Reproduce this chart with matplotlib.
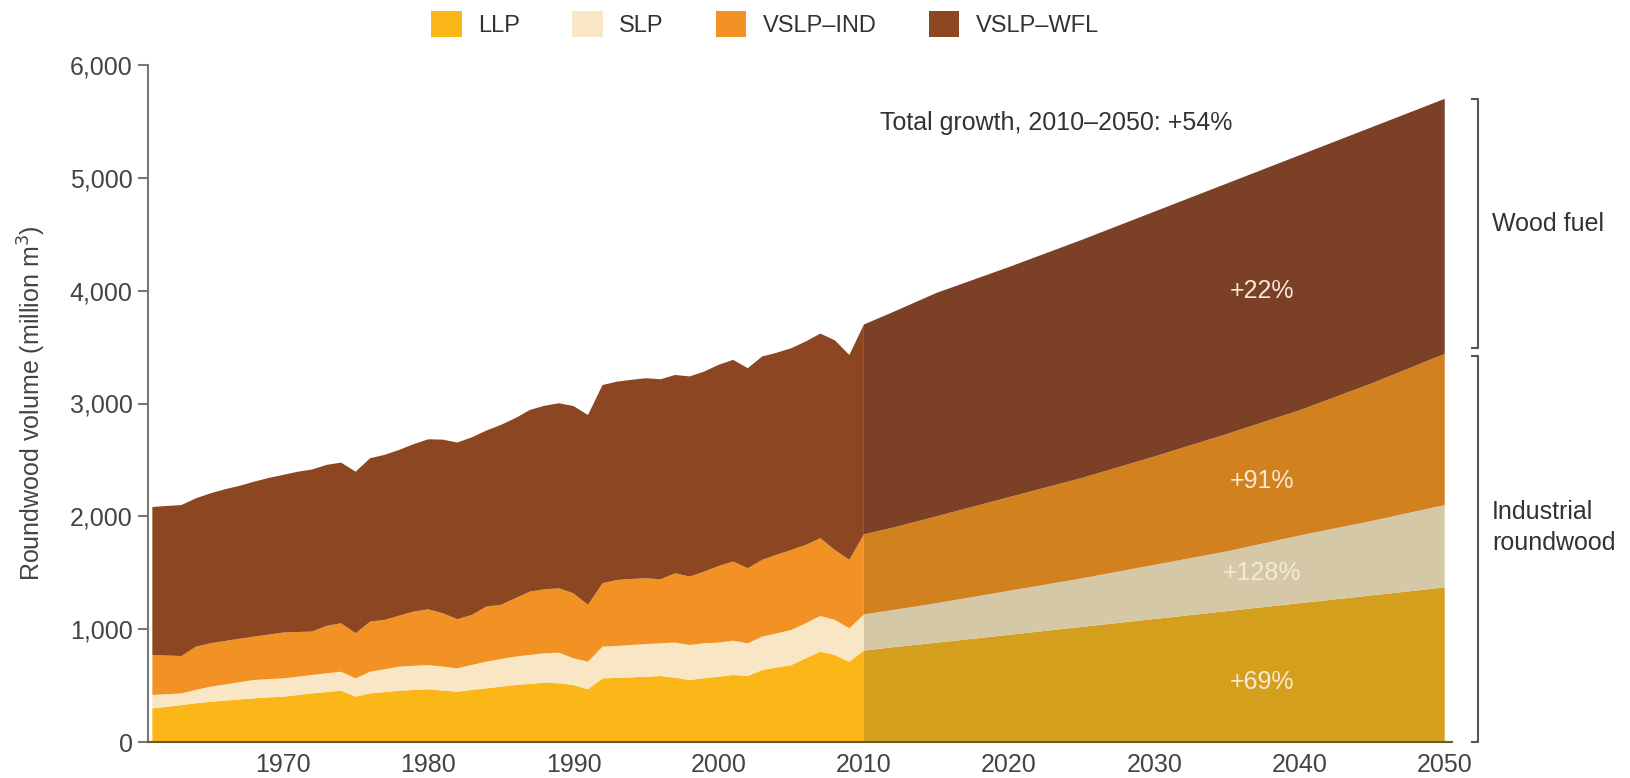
import matplotlib
matplotlib.use('Agg')
import matplotlib.pyplot as plt
from matplotlib.patches import Patch

plt.rcParams['font.family'] = ['Liberation Sans', 'DejaVu Sans']

# historical roundwood removals, million m3 per layer
hist_years = list(range(1961, 2011))
hist_llp = [298, 312, 328, 343, 357, 367, 377, 387, 395, 402,
            416, 431, 443, 455, 402, 431, 443, 455, 461, 467,
            456, 446, 461, 476, 490, 505, 515, 526, 520, 505,
            467, 564, 568, 573, 579, 585, 570, 550, 565, 579,
            594, 585, 638, 660, 682, 742, 801, 771, 712, 810]
hist_slp = [119, 112, 103, 119, 133, 143, 153, 163, 162, 162,
            163, 163, 166, 168, 162, 192, 202, 213, 214, 215,
            212, 207, 222, 236, 245, 252, 257, 260, 272, 237,
            245, 281, 284, 287, 289, 290, 311, 310, 310, 302,
            304, 290, 296, 303, 311, 310, 316, 311, 296, 320]
hist_ind = [354, 342, 331, 383, 385, 385, 385, 384, 395, 406,
            396, 385, 420, 429, 400, 444, 437, 452, 481, 494,
            473, 435, 443, 488, 480, 517, 561, 567, 570, 576,
            503, 562, 584, 585, 583, 567, 614, 606, 635, 679,
            701, 665, 680, 697, 709, 695, 689, 620, 606, 710]
hist_wfl = [1312, 1326, 1338, 1315, 1329, 1345, 1355, 1373, 1388, 1397,
            1420, 1436, 1427, 1424, 1432, 1448, 1463, 1469, 1484, 1507,
            1539, 1566, 1574, 1560, 1595, 1596, 1610, 1627, 1640, 1660,
            1683, 1757, 1758, 1765, 1773, 1773, 1758, 1774, 1773, 1783,
            1788, 1773, 1803, 1790, 1788, 1803, 1814, 1858, 1816, 1860]

# projections 2010-2050
proj_years = [2010, 2012, 2015, 2020, 2025, 2030, 2035, 2040, 2045, 2050]
proj_llp = [810, 840, 880, 950, 1020, 1090, 1160, 1230, 1300, 1370]
proj_slp = [320, 330, 350, 390, 430, 480, 530, 600, 660, 730]
proj_ind = [710, 730, 770, 830, 890, 960, 1040, 1110, 1220, 1340]
proj_wfl = [1860, 1910, 1980, 2040, 2110, 2170, 2220, 2260, 2270, 2260]

labels = ['LLP', 'SLP', 'VSLP\u2013IND', 'VSLP\u2013WFL']
hist_colors = ['#FBB717', '#F8E6C4', '#F39224', '#8C4621']
proj_colors = ['#D59F1E', '#D4C8A6', '#D1821F', '#7B4026']
growth = ['+69%', '+128%', '+91%', '+22%']
growth_y = [530, 1500, 2310, 4000]

grey = '#444444'
fs = 18

fig = plt.figure(figsize=(16.31, 7.78), dpi=100)
ax = fig.add_axes([148/1631, 36/778, 1304/1631, 677/778])

ax.stackplot(hist_years, hist_llp, hist_slp, hist_ind, hist_wfl,
             colors=hist_colors, linewidth=0)
ax.stackplot(proj_years, proj_llp, proj_slp, proj_ind, proj_wfl,
             colors=proj_colors, linewidth=0)

ax.set_xlim(1960.7, 2050.5)
ax.set_ylim(0, 6000)
ax.set_xticks(range(1970, 2051, 10))
ax.set_yticks(range(0, 6001, 1000))
ax.set_yticklabels(['{:,}'.format(v) for v in range(0, 6001, 1000)])
ax.tick_params(axis='y', length=7, width=1.5, color='#777777',
               labelsize=fs, labelcolor=grey, pad=4)
ax.tick_params(axis='x', length=0, labelsize=fs, labelcolor=grey, pad=8)
for s in ['top', 'right']:
    ax.spines[s].set_visible(False)
ax.spines['left'].set_color('#777777')
ax.spines['left'].set_linewidth(1.5)
ax.spines['bottom'].set_color('#6b5a2a')
ax.spines['bottom'].set_linewidth(1.5)
ax.set_ylabel('Roundwood volume (million m$^3$)', fontsize=fs, color=grey)
ax.yaxis.set_label_coords(-0.077, 0.5)

# growth labels
for g, yy in zip(growth, growth_y):
    ax.text(2037.4, yy, g, color='#F6E9D6', fontsize=fs,
            ha='center', va='center')
ax.text(2011.1, 5490, 'Total growth, 2010\u20132050: +54%', fontsize=fs,
        color='#333333', ha='left', va='center')

# brackets on the right
bx = 2052.3
tk = 0.45
for y0, y1 in [(3490, 5700), (0, 3420)]:
    ax.plot([bx - tk, bx, bx, bx - tk], [y1, y1, y0, y0], color='#555555',
            lw=1.5, clip_on=False)
ax.text(bx + 0.95, 4590, 'Wood fuel', fontsize=fs, color='#333333',
        ha='left', va='center')
ax.text(bx + 0.95, 1900, 'Industrial\nroundwood', fontsize=fs,
        color='#333333', ha='left', va='center', linespacing=1.35)

handles = [Patch(facecolor=c, edgecolor='none') for c in hist_colors]
fig.legend(handles, labels, loc='center', ncol=4, frameon=False,
           bbox_to_anchor=(765/1631, 1 - 24/778), fontsize=17,
           handlelength=1.3, handleheight=1.3, handletextpad=0.7,
           columnspacing=2.2, labelcolor='#333333')

plt.savefig('out.png', dpi=100)
